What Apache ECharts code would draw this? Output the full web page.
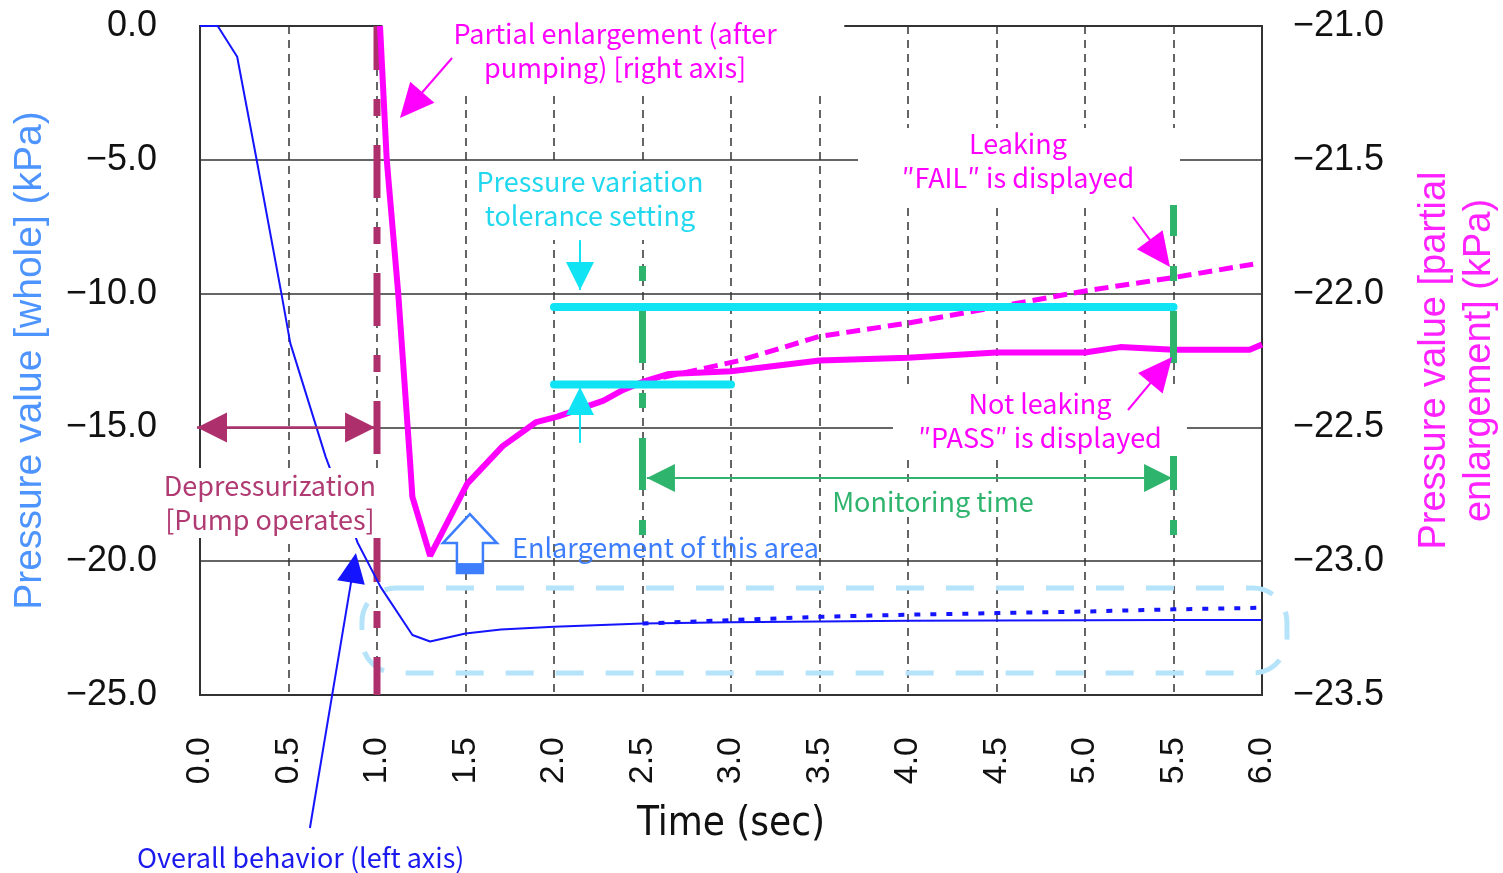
<!DOCTYPE html>
<html><head><meta charset="utf-8">
<script src="https://cdn.jsdelivr.net/npm/echarts@6/dist/echarts.min.js"></script>
<style>html,body{margin:0;padding:0;background:#fff}#c{width:1503px;height:873px}</style>
</head><body><div id="c"></div>
<script>
// ---- tick settings ----
const timeTicks = [0, 0.5, 1, 1.5, 2, 2.5, 3, 3.5, 4, 4.5, 5, 5.5, 6];
const leftTicks = [0, -5, -10, -15, -20, -25];
const rightTicks = [-21, -21.5, -22, -22.5, -23, -23.5];

// ---- overall behaviour (left axis) ----
const wholeX    = [0, 0.1, 0.21, 0.32, 0.46, 0.51, 0.71, 0.89, 1.02, 1.2, 1.3, 1.5, 1.7, 2.0, 2.5, 3.0, 3.5, 4.0, 4.5, 5.0, 5.5, 6.0];
const wholePass = [0, 0, -1.15, -5.0, -10.0, -11.85, -16.1, -19.3, -20.96, -22.76, -23.0, -22.7, -22.55, -22.45, -22.33, -22.28, -22.25, -22.23, -22.22, -22.21, -22.2, -22.2];
const wholeLeakX = [2.5, 3.0, 3.5, 4.0, 4.5, 5.0, 5.5, 6.0];
const wholeLeak  = [-22.33, -22.2, -22.08, -22.0, -21.94, -21.88, -21.8, -21.74];

// ---- partial enlargement (right axis) ----
const partX    = [1.017, 1.055, 1.12, 1.186, 1.2, 1.3, 1.51, 1.71, 1.9, 2.02, 2.28, 2.39, 2.5, 2.65, 3.0, 3.5, 4.0, 4.5, 5.0, 5.2, 5.5, 5.93, 6.0];
const partPass = [-21.0, -21.5, -22.0, -22.62, -22.76, -22.98, -22.71, -22.57, -22.48, -22.46, -22.40, -22.36, -22.33, -22.30, -22.29, -22.25, -22.24, -22.22, -22.22, -22.2, -22.21, -22.21, -22.19];
const partLeakX = [2.5, 3.05, 3.5, 4.0, 4.5, 5.0, 5.5, 5.95];
const partLeak  = [-22.33, -22.25, -22.16, -22.11, -22.05, -21.99, -21.94, -21.89];

// ---- tolerance settings (right axis) ----
const tolUpperX = [2.0, 5.5], tolUpper = [-22.05, -22.05];
const tolLowerX = [2.0, 3.0], tolLower = [-22.34, -22.34];

// ---- event markers (time, left axis span) ----
const pumpStopX = [1.0, 1.0], pumpStopY = [0, -25];
const monStartX = [2.5, 2.5], monStartY = [-8.97, -19.1];
const monEndX = [5.5, 5.5], monEndY = [-6.69, -19.1];

const zip = (xs, ys) => xs.map((x, i) => [x, ys[i]]);
const minus = v => v.toFixed(1).replace('-', '\u2212');
const AX = "'Liberation Sans', Arial, sans-serif";
const JP = "'Noto Sans CJK JP', sans-serif";

const chart = echarts.init(document.getElementById('c'), null, {renderer: 'canvas'});
chart.setOption({
  animation: false,
  backgroundColor: '#fff',
  grid: {left: 200, right: 241, top: 26, bottom: 178, show: true, borderColor: '#333', borderWidth: 2,
         containLabel: false, outerBoundsMode: 'none'},
  xAxis: {
    type: 'value', min: timeTicks[0], max: timeTicks[timeTicks.length - 1], interval: 0.5,
    axisLine: {show: true, lineStyle: {color: '#333', width: 2}},
    axisTick: {show: false},
    splitLine: {show: true, lineStyle: {type: [8, 6], color: '#333', width: 1.5}},
    axisLabel: {rotate: 90, margin: 42, fontSize: 34, color: '#111', fontFamily: AX, formatter: v => v.toFixed(1)},
    name: 'Time (sec)', nameLocation: 'middle', nameGap: 110,
    nameTextStyle: {fontSize: 40, color: '#111', fontFamily: "'Liberation Sans Narrow', 'DejaVu Sans Condensed', sans-serif"}
  },
  yAxis: [{
    type: 'value', min: leftTicks[leftTicks.length - 1], max: leftTicks[0], interval: 5,
    axisLine: {show: true, lineStyle: {color: '#333', width: 2}},
    axisTick: {show: false},
    splitLine: {show: true, lineStyle: {color: '#333', width: 1.5}},
    axisLabel: {margin: 43, fontSize: 36, color: '#111', fontFamily: AX, formatter: minus},
    name: 'Pressure value [whole] (kPa)', nameLocation: 'middle', nameGap: 150, nameRotate: 90,
    nameTextStyle: {fontSize: 39, color: '#4d94ff', fontFamily: AX}
  }, {
    type: 'value', position: 'right', min: rightTicks[rightTicks.length - 1], max: rightTicks[0], interval: 0.5,
    axisLine: {show: true, lineStyle: {color: '#333', width: 2}},
    axisTick: {show: false},
    splitLine: {show: false},
    axisLabel: {margin: 31, fontSize: 36, color: '#111', fontFamily: AX, formatter: minus},
    name: 'Pressure value [partial\nenlargement] (kPa)', nameLocation: 'middle', nameGap: 150, nameRotate: 90,
    nameTextStyle: {fontSize: 38, color: '#ff22ff', fontFamily: AX, lineHeight: 45, align: 'center'}
  }],
  series: [
    {type: 'line', yAxisIndex: 0, data: zip(pumpStopX, pumpStopY), symbol: 'none', z: 2,
     lineStyle: {color: '#ad2f6b', width: 7, type: [53, 29, 17, 29], dashOffset: 9}},
    {type: 'line', yAxisIndex: 0, data: zip(wholeX, wholePass), symbol: 'none', z: 2,
     lineStyle: {color: '#1414ff', width: 2}},
    {type: 'line', yAxisIndex: 0, data: zip(wholeLeakX, wholeLeak), symbol: 'none', z: 2,
     lineStyle: {color: '#1414ff', width: 4, type: [6, 10]}},
    {type: 'line', yAxisIndex: 1, data: zip(partLeakX, partLeak), symbol: 'none', z: 2,
     lineStyle: {color: '#ff00ff', width: 5, type: [14, 7]}},
    {type: 'line', yAxisIndex: 1, data: zip(partX, partPass), symbol: 'none', z: 2,
     lineStyle: {color: '#ff00ff', width: 6}},
    {type: 'line', yAxisIndex: 1, data: zip(tolUpperX, tolUpper), symbol: 'none', z: 2,
     lineStyle: {color: '#10e4f4', width: 8, cap: 'round'}},
    {type: 'line', yAxisIndex: 1, data: zip(tolLowerX, tolLower), symbol: 'none', z: 2,
     lineStyle: {color: '#10e4f4', width: 8, cap: 'round'}},
    {type: 'line', yAxisIndex: 0, data: zip(monStartX, monStartY), symbol: 'none', z: 2,
     lineStyle: {color: '#2fb46e', width: 7, type: [15, 30, 52, 30]}},
    {type: 'line', yAxisIndex: 0, data: zip(monEndX, monEndY), symbol: 'none', z: 2,
     lineStyle: {color: '#2fb46e', width: 7, type: [52, 30, 15, 30], dashOffset: 21}}
  ]
});

// ---------- annotations (anchored in data coordinates) ----------
function P(x, y) { return chart.convertToPixel({xAxisIndex: 0, yAxisIndex: 0}, [x, y]); }
function head(tip, from, len, half, color, z) {
  const dx = tip[0] - from[0], dy = tip[1] - from[1], L = Math.hypot(dx, dy);
  const ux = dx / L, uy = dy / L, bx = tip[0] - ux * len, by = tip[1] - uy * len, nx = -uy, ny = ux;
  return {type: 'polygon', z, shape: {points: [tip, [bx + nx * half, by + ny * half], [bx - nx * half, by - ny * half]]}, style: {fill: color}};
}
function arrow(fromD, toD, color, lw, len, half, z) {
  const a = P(fromD[0], fromD[1]), b = P(toD[0], toD[1]);
  const dx = b[0] - a[0], dy = b[1] - a[1], L = Math.hypot(dx, dy);
  return [
    {type: 'line', z, shape: {x1: a[0], y1: a[1], x2: b[0] - dx / L * len * 0.7, y2: b[1] - dy / L * len * 0.7}, style: {stroke: color, lineWidth: lw}},
    head(b, a, len, half, color, z)
  ];
}
function dblArrow(aD, bD, color, lw, len, half, z) {
  const a = P(aD[0], aD[1]), b = P(bD[0], bD[1]);
  return [
    {type: 'line', z, shape: {x1: a[0], y1: a[1], x2: b[0], y2: b[1]}, style: {stroke: color, lineWidth: lw}},
    head(a, b, len, half, color, z), head(b, a, len, half, color, z)
  ];
}
function box(x0, y0, x1, y1, z) {
  const a = P(x0, y0), b = P(x1, y1);
  return {type: 'rect', z, shape: {x: a[0], y: a[1], width: b[0] - a[0], height: b[1] - a[1]}, style: {fill: '#fff'}};
}
function label(x, y, text, color, z, align) {
  const p = P(x, y);
  return {type: 'text', z, x: p[0], y: p[1], style: {text, fill: color, font: '27px ' + JP, align: align || 'center', verticalAlign: 'middle', lineHeight: 34}};
}
function hollowArrow(tipD, color, z) {
  const t = P(tipD[0], tipD[1]), x = t[0], y = t[1];
  return [
    {type: 'polygon', z, shape: {points: [[x, y], [x + 27, y + 29], [x + 13, y + 29], [x + 13, y + 59], [x - 13, y + 59], [x - 13, y + 29], [x - 27, y + 29]]},
     style: {fill: '#fff', stroke: color, lineWidth: 2.5}},
    {type: 'rect', z, shape: {x: x - 13, y: y + 49, width: 26, height: 10}, style: {fill: color}}
  ];
}
function vArrow(topD, botD, color, down, z) {
  const a = P(topD[0], topD[1]), b = P(botD[0], botD[1]);
  const tip = down ? b : a, from = down ? a : b;
  return [
    {type: 'line', z, shape: {x1: a[0], y1: a[1], x2: b[0], y2: b[1]}, style: {stroke: color, lineWidth: 2}},
    head(tip, from, 28, 14, color, z)
  ];
}

const rr0 = P(0.915, -21.0), rr1 = P(6.141, -24.18);
const g = [
  // white masks behind annotation text
  box(1.03, 0.97, 3.64, -2.47, 1),
  box(1.514, -5.19, 2.893, -8.0, 3),
  box(3.718, -3.81, 5.537, -6.69, 3),
  box(3.915, -13.45, 5.576, -16.07, 3),
  box(3.559, -17.26, 4.718, -18.35, 3),
  box(-0.237, -16.52, 1.028, -19.13, 5),
  // enlargement region
  {type: 'rect', z: 1, shape: {x: rr0[0], y: rr0[1], width: rr1[0] - rr0[0], height: rr1[1] - rr0[1], r: 34},
   style: {fill: 'none', stroke: '#b5e4fa', lineWidth: 5, lineDash: [28, 22]}},
  // texts
  label(2.345, -0.93, 'Partial enlargement (after\npumping) [right axis]', '#ff00ff', 4),
  label(2.203, -6.465, 'Pressure variation\ntolerance setting', '#22d8ee', 4),
  label(4.621, -5.045, 'Leaking\n\u2033FAIL\u2033 is displayed', '#ff00ff', 4),
  label(4.746, -14.76, 'Not leaking\n\u2033PASS\u2033 is displayed', '#ff00ff', 4),
  label(0.395, -17.83, 'Depressurization\n[Pump operates]', '#b03a72', 6),
  label(4.141, -17.79, 'Monitoring time', '#2fb46e', 4),
  label(1.763, -19.51, 'Enlargement of this area', '#3d7eff', 4, 'left'),
  label(-0.356, -31.09, 'Overall behavior (left axis)', '#1a1aee', 4, 'left'),
  // arrows
  ...arrow([1.424, -1.196], [1.13, -3.438], '#ff00ff', 2, 34, 16, 4),
  ...arrow([5.271, -7.138], [5.48, -9.006], '#ff00ff', 2, 34, 16, 4),
  ...arrow([5.243, -14.35], [5.492, -12.37], '#ff00ff', 2, 34, 16, 4),
  ...arrow([0.621, -29.97], [0.881, -19.69], '#1414ff', 2, 30, 14, 4),
  ...dblArrow([-0.017, -15.0], [0.989, -15.0], '#ad2f6b', 2.5, 30, 15, 4),
  ...dblArrow([2.525, -16.89], [5.492, -16.89], '#2fb46e', 2, 28, 14, 4),
  ...vArrow([2.147, -8.0], [2.147, -9.865], '#10e4f4', true, 4),
  ...vArrow([2.147, -13.49], [2.147, -15.58], '#10e4f4', false, 4),
  ...hollowArrow([1.525, -18.24], '#3d7eff', 4)
];
chart.setOption({graphic: g});
</script></body></html>
